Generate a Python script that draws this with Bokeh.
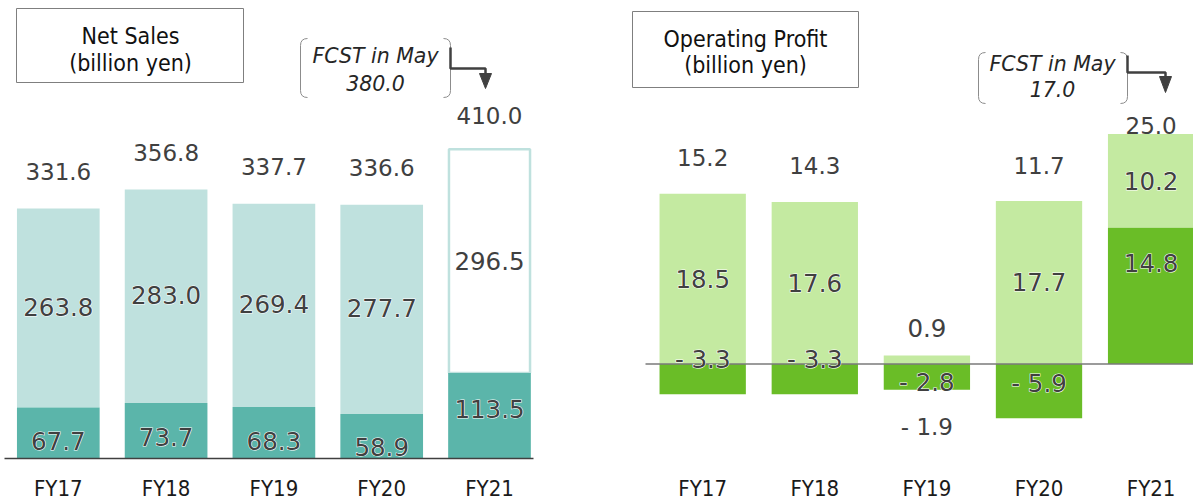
from bokeh.plotting import figure
from bokeh.models import Range1d, ColumnDataSource
from bokeh.core.properties import value
from bokeh.embed import file_html
from bokeh.resources import INLINE

# ---------------- data ----------------
years = ["FY17", "FY18", "FY19", "FY20", "FY21"]
sales_total = [331.6, 356.8, 337.7, 336.6, 410.0]
sales_lower = [67.7, 73.7, 68.3, 58.9, 113.5]
sales_upper = [263.8, 283.0, 269.4, 277.7, 296.5]
sales_fcst = 380.0

op_total = [15.2, 14.3, -1.9, 11.7, 25.0]
op_light = [18.5, 17.6, 0.9, 17.7, 10.2]
op_dark = [-3.3, -3.3, -2.8, -5.9, 14.8]
op_fcst = 17.0

# ---------------- style / layout ----------------
FONT = "DejaVu Sans Condensed"   # titles / category labels
NFONT = "DejaVu Sans"            # numbers
TXT = "#404040"
TEAL_L, TEAL_D = "#bfe1de", "#5bb5aa"
GREEN_L, GREEN_D = "#c4eaa1", "#6abd27"

W, H = 1193, 500
X0, Y0 = 0, 0

# pixel geometry of the two panels
S_C0, S_SP, S_ZERO, S_PX = 57.8, 107.8, 458.0, 0.754
O_C0, O_SP, O_ZERO, O_PX = 702.2, 112.1, 363.4, 9.2

p = figure(width=W, height=H, x_range=Range1d(X0, X0 + W), y_range=Range1d(Y0 + H, Y0),
           output_backend="svg", toolbar_location=None, min_border=0,
           x_axis_type=None, y_axis_type=None)
p.grid.visible = False
p.outline_line_color = None
p.background_fill_color = "white"
p.border_fill_color = "white"

p.extra_x_ranges = {
    "sx": Range1d((X0 - S_C0) / S_SP, (X0 + W - S_C0) / S_SP),
    "ox": Range1d((X0 - O_C0) / O_SP, (X0 + W - O_C0) / O_SP),
}
p.extra_y_ranges = {
    "sy": Range1d((S_ZERO - (Y0 + H)) / S_PX, (S_ZERO - Y0) / S_PX),
    "oy": Range1d((O_ZERO - (Y0 + H)) / O_PX, (O_ZERO - Y0) / O_PX),
}

idx = list(range(len(years)))

def fmt(v):
    return f"- {abs(v):.1f}" if v < 0 else f"{v:.1f}"

def label(xs, ys, texts, offs, rx, ry, halo=False, size="23px"):
    kw = dict(text_align="center", text_baseline="middle", text_font=value(NFONT),
              text_font_size=size, x_range_name=rx, y_range_name=ry)
    if halo:
        p.text(x=xs, y=ys, text=texts, y_offset=offs, text_color="white",
               text_outline_color="white", **kw)
    p.text(x=xs, y=ys, text=texts, y_offset=offs, text_color=TXT, **kw)

INNER = "24.5px"

# ---------------- Net Sales ----------------
s_fill = [TEAL_L] * 4 + ["white"]
s_src = ColumnDataSource(dict(
    x=idx, lower=sales_lower, upper=[a + b for a, b in zip(sales_lower, sales_upper)],
    total=sales_total, fill=s_fill,
))
p.vbar(x="x", bottom="lower", top="upper", width=0.767, fill_color="fill",
       line_color=None, source=s_src, x_range_name="sx", y_range_name="sy")
# forecast year outline
p.vbar(x=[idx[-1]], bottom=[sales_lower[-1]], top=[sales_lower[-1] + sales_upper[-1]],
       width=0.752, fill_color=None, line_color=TEAL_L, line_width=2.5,
       x_range_name="sx", y_range_name="sy")
p.vbar(x="x", bottom=0, top="lower", width=0.767, fill_color=TEAL_D,
       line_color=None, source=s_src, x_range_name="sx", y_range_name="sy")
p.segment(x0=[4], x1=[533], y0=[0], y1=[0], line_color=TXT, line_width=1.5,
          y_range_name="sy")

sales_total_off = [-37, -37, -37, -37, -34]
sales_upper_off = [-1, -1, -1, -1, 0]
sales_lower_off = [8, 6, 8, 11, -7]

label(idx, sales_total, [fmt(v) for v in sales_total], sales_total_off, "sx", "sy")
label(idx, [a + b / 2 for a, b in zip(sales_lower, sales_upper)],
      [fmt(v) for v in sales_upper], sales_upper_off, "sx", "sy", halo=True, size=INNER)
label(idx, [v / 2 for v in sales_lower], [fmt(v) for v in sales_lower],
      sales_lower_off, "sx", "sy", halo=True, size=INNER)
p.text(x=idx, y=[488] * len(idx), text=years, text_align="center",
       text_baseline="middle", text_font=value(FONT), text_font_size="22px",
       text_color="#1a1a1a", x_range_name="sx")

# ---------------- Operating Profit ----------------
o_light_bot = [max(d, 0) for d in op_dark]
o_light_top = [b + l for b, l in zip(o_light_bot, op_light)]
p.vbar(x=idx, bottom=o_light_bot, top=o_light_top, width=0.77, fill_color=GREEN_L,
       line_color=None, x_range_name="ox", y_range_name="oy")
p.vbar(x=idx, bottom=[0] * len(idx), top=op_dark, width=0.77, fill_color=GREEN_D,
       line_color=None, x_range_name="ox", y_range_name="oy")
p.segment(x0=[645], x1=[1193], y0=[0], y1=[0], line_color="#7a7a7a", line_width=1.5,
          y_range_name="oy")

o_total_anchor = [t if tot >= 0 else min(d, 0) for t, d, tot in zip(o_light_top, op_dark, op_total)]
o_total_off = [-36, -36, 37, -36, -8]
o_light_anchor = [b + l / 2 if l > 2 else b + l for b, l in zip(o_light_bot, op_light)]
o_light_off = [0, 0, -28, 0, 0]
o_dark_off = [-20, -20, 6, -8, -33]

label(idx, o_total_anchor, [fmt(v) for v in op_total], o_total_off, "ox", "oy")
label(idx, o_light_anchor, [fmt(v) for v in op_light], o_light_off, "ox", "oy",
      halo=True, size=INNER)
label(idx, [d / 2 for d in op_dark], [fmt(v) for v in op_dark], o_dark_off, "ox", "oy",
      halo=True, size=INNER)
p.text(x=idx, y=[488] * len(idx), text=years, text_align="center",
       text_baseline="middle", text_font=value(FONT), text_font_size="22px",
       text_color="#1a1a1a", x_range_name="ox")

# ---------------- title boxes ----------------
p.quad(left=[16, 632], right=[243, 858], top=[8, 11], bottom=[82, 87],
       fill_color="white", line_color="#7f7f7f", line_width=1)
p.text(x=[130, 130, 745, 745], y=[35, 62, 38, 64],
       text=["Net Sales", "(billion yen)", "Operating Profit", "(billion yen)"],
       text_align="center", text_baseline="middle", text_font=value(FONT),
       text_font_size="23px", text_color="#111111")

# ---------------- forecast call-outs ----------------
def bracket(xl, xr, yt, yb):
    r = 7
    p.quadratic(x0=[xl + r, xl, xr - r, xr], y0=[yt, yb - r, yt, yb - r],
                x1=[xl, xl + r, xr, xr - r], y1=[yt + r, yb, yt + r, yb],
                cx=[xl, xl, xr, xr], cy=[yt, yb, yt, yb],
                line_color="#8c8c8c", line_width=1)
    p.segment(x0=[xl, xr], x1=[xl, xr], y0=[yt + r, yt + r], y1=[yb - r, yb - r],
              line_color="#8c8c8c", line_width=1)

bracket(300, 450, 38, 97)
bracket(978, 1127, 52, 103)

p.text(x=[375, 375, 1052, 1052], y=[55, 82, 63, 88],
       text=["FCST in May", f"{sales_fcst:.1f}", "FCST in May", f"{op_fcst:.1f}"],
       text_align="center", text_baseline="middle", text_font=value(NFONT),
       text_font_style="italic", text_font_size="20.5px", text_color="#262626")

p.line(x=[450, 450, 485, 485], y=[47, 68, 68, 74], line_color=TXT, line_width=2.5)
p.patch(x=[479, 491, 485], y=[73, 73, 88], fill_color=TXT, line_color=TXT)
p.line(x=[1127, 1127, 1165, 1165], y=[55, 72, 72, 77], line_color=TXT, line_width=2.5)
p.patch(x=[1159, 1171, 1165], y=[76, 76, 92], fill_color=TXT, line_color=TXT)

open("out.html", "w").write(file_html(p, INLINE))
